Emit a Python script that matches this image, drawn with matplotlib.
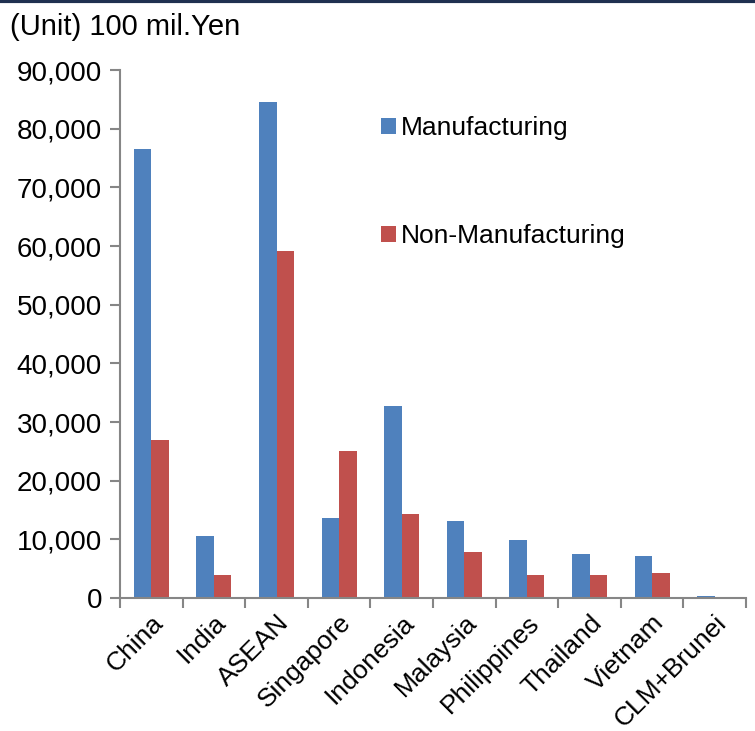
import numpy as np
import matplotlib.pyplot as plt
from matplotlib.ticker import FuncFormatter

plt.rcParams['font.family'] = ['Liberation Sans', 'DejaVu Sans']

categories = ["China", "India", "ASEAN", "Singapore", "Indonesia", "Malaysia",
              "Philippines", "Thailand", "Vietnam", "CLM+Brunei"]
manufacturing = [76500, 10500, 84500, 13600, 32700, 13100, 9900, 7500, 7200, 300]
non_manufacturing = [27000, 4000, 59200, 25000, 14300, 7800, 3900, 3900, 4200, 200]

blue = "#4F81BD"
red = "#C0504D"
axis_gray = "#868686"

fig = plt.figure(figsize=(7.55, 7.31), dpi=100)
ax = fig.add_axes([120 / 755, 1 - 598 / 731, 626 / 755, 528 / 731])

x = np.arange(len(categories))
w = 0.28
ax.bar(x - w / 2, manufacturing, w, color=blue, label="Manufacturing")
ax.bar(x + w / 2, non_manufacturing, w, color=red, label="Non-Manufacturing")

ax.set_xlim(-0.5, len(categories) - 0.5)
ax.set_ylim(0, 90000)
ax.set_yticks(np.arange(0, 90001, 10000))
ax.yaxis.set_major_formatter(FuncFormatter(lambda v, p: f"{int(v):,}"))
ax.tick_params(axis='y', labelsize=20, length=7, color=axis_gray, width=1.5, pad=6)

ax.set_xticks(x)
ax.set_xticklabels(categories, rotation=45, ha='right', rotation_mode='anchor', fontsize=19)
ax.tick_params(axis='x', which='major', length=0, pad=9)
ax.set_xticks(np.arange(-0.5, len(categories), 1), minor=True)
ax.tick_params(axis='x', which='minor', length=7, color=axis_gray, width=1.5)

for s in ['top', 'right']:
    ax.spines[s].set_visible(False)
for s in ['left', 'bottom']:
    ax.spines[s].set_color(axis_gray)
    ax.spines[s].set_linewidth(1.5)

fig.text(10 / 755, 1 - 27 / 731, "(Unit) 100 mil.Yen", fontsize=21, va='center', ha='left')

ax.legend(loc='upper left', bbox_to_anchor=(381 / 755, 1 - 116 / 731),
          bbox_transform=fig.transFigure, frameon=False, fontsize=19,
          labelspacing=3.2, handlelength=0.55, handleheight=0.55, handletextpad=0.2,
          borderpad=0, borderaxespad=0)

# dark border line at top of the figure
fig.add_artist(plt.Line2D([0, 1], [1 - 1 / 731, 1 - 1 / 731], transform=fig.transFigure,
                          color="#1F3050", linewidth=3))

fig.savefig("out.png", dpi=100)
